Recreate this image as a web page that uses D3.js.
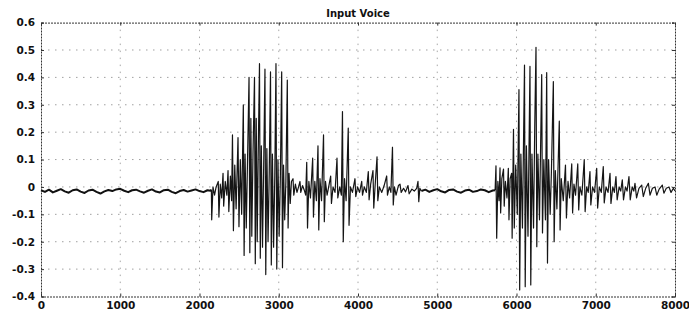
<!DOCTYPE html>
<html><head><meta charset="utf-8">
<script src="https://d3js.org/d3.v7.min.js"></script>
<style>
html,body{margin:0;padding:0;background:#fff;}
svg text{font-family:"DejaVu Sans",sans-serif;font-weight:bold;fill:#111;}
</style></head>
<body><svg id="c" width="689" height="312"></svg>
<script>
// ---- data: waveform vertices [sample index, amplitude] ----
const silence1 = [[0,-0.012],[50,-0.018],[100,-0.010],[150,-0.020],[200,-0.014],[250,-0.008],[300,-0.016],[350,-0.021],[400,-0.012],[450,-0.009],[500,-0.017],[550,-0.022],[600,-0.013],[650,-0.010],[700,-0.018],[750,-0.024],[800,-0.016],[850,-0.011],[900,-0.015],[950,-0.009],[1000,-0.007],[1050,-0.014],[1100,-0.019],[1150,-0.012],[1200,-0.010],[1250,-0.016],[1300,-0.021],[1350,-0.014],[1400,-0.009],[1450,-0.017],[1500,-0.020],[1550,-0.012],[1600,-0.010],[1650,-0.018],[1700,-0.023],[1750,-0.015],[1800,-0.011],[1850,-0.017],[1900,-0.013],[1950,-0.009],[2000,-0.015],[2050,-0.019],[2100,-0.012],[2140,-0.014],[2150,-0.01]];

const burst1 = [[2150,-0.01],[2154,-0.12],[2170,0.0],[2190,-0.03],[2210,0.0],[2237,0.02],[2245,-0.11],[2262,0.01],[2280,-0.04],[2297,0.05],[2305,-0.07],[2325,0.02],[2345,-0.03],[2360,0.06],[2370,-0.09],[2390,0.04],[2405,-0.05],[2416,0.19],[2428,-0.16],[2445,0.08],[2462,-0.08],[2486,0.18],[2498,-0.145],[2515,0.10],[2532,-0.10],[2553,0.30],[2563,-0.25],[2575,0.12],[2590,-0.15],[2605,0.08],[2625,0.40],[2635,-0.24],[2648,0.25],[2660,-0.18],[2675,0.12],[2694,0.40],[2704,-0.28],[2716,0.25],[2728,-0.20],[2740,0.10],[2757,0.45],[2767,-0.26],[2780,0.15],[2795,-0.22],[2810,0.08],[2826,0.43],[2836,-0.32],[2850,0.14],[2865,-0.20],[2880,0.05],[2896,0.42],[2906,-0.285],[2920,0.12],[2935,-0.22],[2950,0.04],[2965,0.45],[2975,-0.30],[2990,0.10],[3005,-0.18],[3020,0.03],[3037,0.42],[3047,-0.295],[3060,0.08],[3075,-0.12],[3090,0.02],[3108,0.39],[3118,-0.15],[3130,0.05],[3145,-0.06],[3160,0.02],[3180,0.03],[3190,-0.03],[3210,0.01],[3230,-0.02],[3250,0.00],[3268,0.02],[3278,-0.02],[3300,0.005],[3320,-0.01],[3340,-0.03],[3353,0.09],[3363,-0.15],[3380,0.02],[3400,-0.04],[3428,0.105],[3438,-0.11],[3455,0.02],[3475,-0.05],[3495,0.15],[3505,-0.157],[3520,0.03],[3540,-0.05],[3565,0.19],[3575,-0.127],[3590,0.02],[3610,-0.03],[3630,0.0],[3655,0.04],[3665,-0.06],[3685,0.0],[3710,-0.02],[3735,0.105],[3745,-0.04],[3770,0.0],[3790,-0.03],[3804,0.275],[3814,-0.20],[3830,0.03],[3850,-0.05],[3877,0.215],[3887,-0.14],[3905,0.0],[3930,-0.02],[3962,0.03],[3972,-0.035],[3995,0.0],[4020,-0.02],[4047,0.02],[4057,-0.03],[4080,0.0],[4105,-0.02],[4130,0.056],[4140,-0.047],[4160,0.01],[4189,0.06],[4199,-0.077],[4215,0.0],[4240,0.11],[4250,-0.05],[4270,0.0],[4300,-0.02],[4330,0.005],[4362,0.04],[4372,-0.03],[4395,0.0],[4415,-0.02],[4435,0.145],[4445,-0.066],[4460,0.0],[4480,-0.03],[4510,0.005],[4530,0.01],[4545,-0.02],[4575,-0.005],[4600,-0.018],[4631,0.005],[4645,-0.025],[4680,-0.008],[4710,-0.015],[4740,-0.005],[4757,0.02],[4767,-0.054],[4780,-0.005],[4800,-0.015]];

const quiet = [[4800,-0.015],[4850,-0.010],[4900,-0.018],[4950,-0.012],[5000,-0.008],[5050,-0.016],[5100,-0.020],[5150,-0.011],[5200,-0.009],[5250,-0.017],[5300,-0.021],[5350,-0.013],[5400,-0.010],[5450,-0.018],[5500,-0.015],[5550,-0.009],[5600,-0.012],[5650,-0.019],[5700,-0.013],[5730,-0.012]];

const burst2 = [[5730,-0.012],[5741,0.077],[5750,-0.187],[5765,0.02],[5780,-0.05],[5792,0.07],[5800,-0.095],[5815,0.03],[5836,0.065],[5845,-0.07],[5860,0.02],[5880,-0.04],[5897,0.068],[5905,-0.12],[5920,0.03],[5939,0.05],[5945,-0.187],[5962,0.21],[5972,-0.15],[5990,0.08],[6010,-0.10],[6031,0.355],[6040,-0.376],[6055,0.12],[6075,-0.15],[6101,0.445],[6110,-0.364],[6125,0.15],[6145,-0.18],[6170,0.44],[6180,-0.358],[6195,0.12],[6215,-0.15],[6230,0.215],[6246,0.51],[6256,-0.218],[6270,0.12],[6290,-0.12],[6318,0.41],[6328,-0.168],[6345,0.10],[6365,-0.12],[6381,0.417],[6391,-0.278],[6405,0.10],[6425,-0.10],[6440,0.05],[6465,0.385],[6475,-0.20],[6490,0.06],[6510,-0.08],[6540,0.24],[6550,-0.157],[6565,0.03],[6590,-0.05],[6618,0.08],[6630,-0.113],[6650,0.02],[6670,-0.04],[6697,0.084],[6708,-0.095],[6725,0.01],[6745,-0.03],[6773,0.084],[6785,-0.084],[6800,0.0],[6825,-0.03],[6855,0.10],[6866,-0.09],[6885,0.0],[6905,-0.02],[6927,0.056],[6938,-0.066],[6960,0.0],[6985,-0.02],[7012,0.068],[7024,-0.077],[7045,0.0],[7070,-0.02],[7095,0.074],[7107,-0.058],[7130,0.0],[7155,-0.02],[7180,0.05],[7192,-0.06],[7215,0.0],[7235,-0.02],[7255,0.038],[7270,-0.047],[7295,0.0],[7315,-0.015],[7335,0.026],[7350,-0.047],[7375,0.0],[7395,-0.015],[7419,0.038],[7435,-0.047],[7460,0.0],[7480,-0.015],[7495,0.013],[7515,-0.04],[7545,-0.005],[7580,0.007],[7600,-0.035],[7630,-0.005],[7664,0.013],[7685,-0.03],[7715,-0.005],[7748,0.0],[7770,-0.03],[7800,-0.008],[7840,0.007],[7860,-0.023],[7890,-0.005],[7924,0.0],[7950,-0.02],[7980,-0.005],[8000,-0.015]];

const xTicks = [0,1000,2000,3000,4000,5000,6000,7000,8000];
const xTickLabels = ["0","1000","2000","3000","4000","5000","6000","7000","8000"];
const yTicks = [-0.4,-0.3,-0.2,-0.1,0,0.1,0.2,0.3,0.4,0.5,0.6];
const yTickLabels = ["-0.4","-0.3","-0.2","-0.1","0","0.1","0.2","0.3","0.4","0.5","0.6"];
const title = "Input Voice";

// ---- drawing ----
const svg = d3.select("#c");
const L = 41, R = 675, T = 22.6, B = 296.5;
const x = d3.scaleLinear().domain([0,8000]).range([L,R]);
const y = d3.scaleLinear().domain([-0.4,0.6]).range([B,T]);

// grid
const grid = svg.append("g");
grid.selectAll("line.h").data(yTicks.slice(1,-1)).join("line")
  .attr("x1",L).attr("x2",R).attr("y1",d=>y(d)).attr("y2",d=>y(d))
  .attr("stroke","#a0a0a0").attr("stroke-width",1).attr("stroke-dasharray","1.5,5.5");
grid.selectAll("line.v").data(xTicks.slice(1,-1)).join("line")
  .attr("x1",d=>x(d)).attr("x2",d=>x(d)).attr("y1",T).attr("y2",B)
  .attr("stroke","#a8a8a8").attr("stroke-width",1).attr("stroke-dasharray","1.5,5.5");

// axes
const xAxisB = d3.axisBottom(x).tickValues(xTicks).tickSize(-3).tickPadding(5)
  .tickFormat((d,i)=>xTickLabels[i]);
const xAxisT = d3.axisTop(x).tickValues(xTicks).tickSize(-3).tickFormat("");
const yAxisL = d3.axisLeft(y).tickValues(yTicks).tickSize(-3).tickPadding(6)
  .tickFormat((d,i)=>yTickLabels[i]);
const yAxisR = d3.axisRight(y).tickValues(yTicks).tickSize(-3).tickFormat("");

function style(g){
  g.select(".domain").attr("stroke","#333").attr("stroke-dasharray","2,1");
  g.selectAll(".tick line").attr("stroke","#333");
  g.selectAll(".tick text").attr("font-size",10.5).attr("font-family","DejaVu Sans").attr("font-weight","bold").attr("fill","#111");
}
svg.append("g").attr("transform",`translate(0,${B})`).call(xAxisB).call(style);
svg.append("g").attr("transform",`translate(0,${T})`).call(xAxisT).call(style);
svg.append("g").attr("transform",`translate(${L},0)`).call(yAxisL).call(style);
svg.append("g").attr("transform",`translate(${R},0)`).call(yAxisR).call(style);

// waveform
const line = d3.line().x(d=>x(d[0])).y(d=>y(d[1]));
svg.selectAll("path.quietwave").data([silence1, quiet]).join("path")
  .attr("class","quietwave").attr("d",line)
  .attr("fill","none").attr("stroke","#111").attr("stroke-width",2)
  .attr("stroke-linejoin","round");
svg.selectAll("path.voicewave").data([burst1, burst2]).join("path")
  .attr("class","voicewave").attr("d",line)
  .attr("fill","none").attr("stroke","#151515").attr("stroke-width",1.2)
  .attr("stroke-linejoin","round");

// title
svg.append("text").attr("x",(L+R)/2).attr("y",17).attr("text-anchor","middle")
  .attr("font-size",10).text(title);
</script></body></html>
